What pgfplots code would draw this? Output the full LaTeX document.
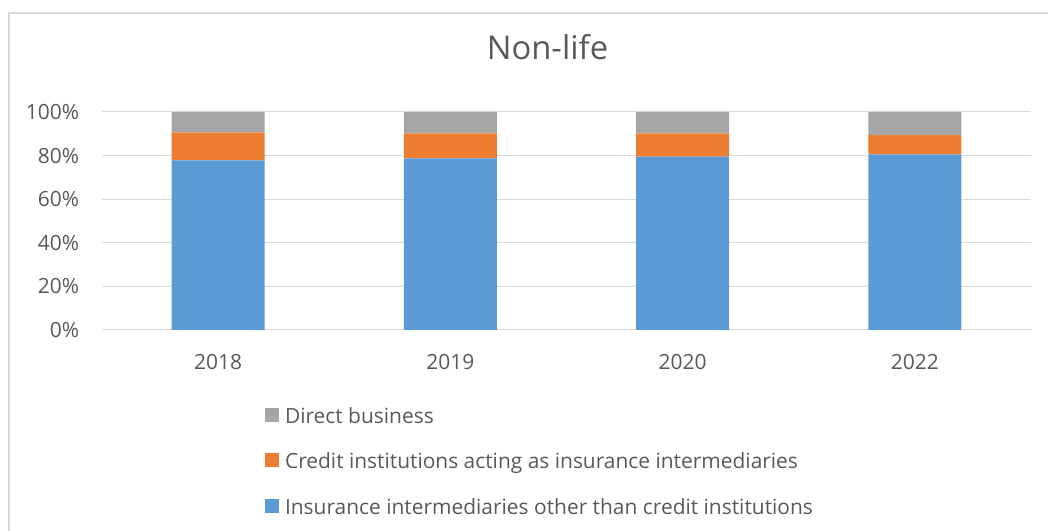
\documentclass[border=0pt]{standalone}
\usepackage{pgfplots}
\pgfplotsset{compat=1.18}
\usepackage{fontspec}
\setmainfont{Open Sans}
\definecolor{cblue}{HTML}{5B9BD5}
\definecolor{corange}{HTML}{ED7D31}
\definecolor{cgray}{HTML}{A5A5A5}
\definecolor{ctext}{HTML}{595959}
\definecolor{cgrid}{HTML}{D9D9D9}
\begin{document}
\begin{tikzpicture}
\useasboundingbox (0,0) rectangle (786pt,398.25pt);
\draw[cgrid, line width=1.5pt] (6.375pt,-2pt) -- (6.375pt,388.5pt) -- (790pt,388.5pt);
\begin{axis}[
  at={(76.5pt,150.75pt)}, anchor=south west,
  scale only axis, width=696.75pt, height=163.5pt,
  ybar stacked, bar width=69.75pt,
  xmin=-0.5, xmax=3.5, ymin=0, ymax=100,
  xtick={0,1,2,3}, xticklabels={2018,2019,2020,2022},
  ytick={0,20,40,60,80,100},
  yticklabels={0\%,20\%,40\%,60\%,80\%,100\%},
  ymajorgrids, grid style={cgrid, line width=0.75pt},
  axis line style={draw=none},
  major tick length=0pt,
  tick label style={font=\fontsize{15.7}{18}\selectfont, text=ctext, inner sep=0pt},
  yticklabel style={anchor=base east, xshift=-17pt, yshift=-5.6pt},
  xticklabel style={anchor=base, yshift=-29.5pt},
  title={Non-life},
  title style={at={(axis description cs:0.4795,1.2032)}, anchor=base, font=\fontsize{24.6}{28}\selectfont, text=ctext, inner sep=0pt},
  reverse legend,
  legend cell align=left,
  legend image code/.code={\fill[#1] (0pt,-3pt) rectangle (10.5pt,7.5pt);},
  legend style={at={(axis description cs:0.1755,-0.354)}, anchor=north west, draw=none, fill=none,
    font=\fontsize{15.7}{18}\selectfont, text=ctext, inner sep=0pt, outer sep=0pt,
    row sep=18.1pt, column sep=4.5pt,
    nodes={inner sep=0pt, text height=12pt, text depth=4pt}},
]
\addplot[fill=cblue, draw=none] coordinates {(0,77.8) (1,78.7) (2,79.5) (3,80.6)};
\addplot[fill=corange, draw=none] coordinates {(0,12.9) (1,11.5) (2,10.7) (3,8.8)};
\addplot[fill=cgray, draw=none] coordinates {(0,9.3) (1,9.8) (2,9.8) (3,10.6)};
\legend{Insurance intermediaries other than credit institutions, Credit institutions acting as insurance intermediaries, Direct business}
\end{axis}
\end{tikzpicture}
\end{document}
